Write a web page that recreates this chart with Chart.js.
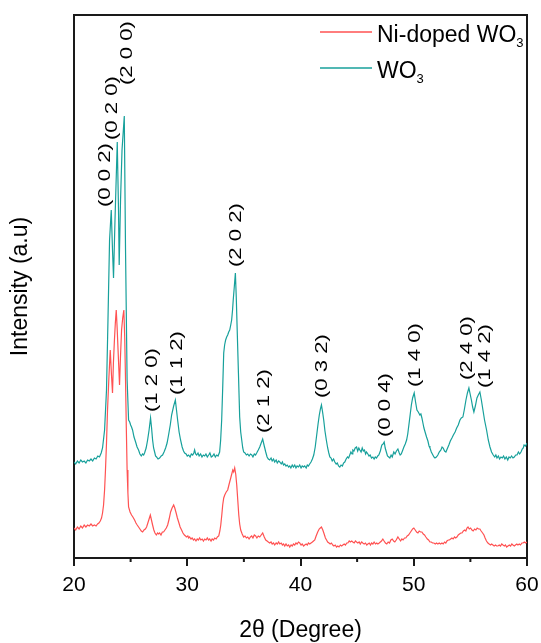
<!DOCTYPE html>
<html>
<head>
<meta charset="utf-8">
<script src="https://cdn.jsdelivr.net/npm/chart.js@4.4.1/dist/chart.umd.min.js"></script>
<style>
  body { margin: 0; background: #fff; }
  #wrap { width: 541px; height: 643px; }
</style>
</head>
<body>
<div id="wrap"><canvas id="xrd" width="541" height="643"></canvas></div>
<script>
// [2theta (degree), intensity (a.u.)]
const wo3Pattern = [[20.0,96],[20.15,94],[20.3,97],[20.45,95],[20.6,98],[20.75,96],[20.9,97],[21.05,95],[21.2,98],[21.35,97],
  [21.5,99],[21.65,97],[21.8,100],[21.95,99],[22.1,102],[22.25,101],[22.4,105],[22.52,110],[22.70,128],[22.87,168],
  [23.0,238],[23.14,318],[23.29,348],[23.40,308],[23.49,280],[23.62,338],[23.82,416],[23.93,348],[23.99,293],[24.11,358],
  [24.24,408],[24.44,442],[24.55,308],[24.69,178],[24.82,138],[24.92,136],[25.0,133],[25.08,131],[25.17,128],[25.3,121],
  [25.44,116],[25.57,111],[25.70,108],[25.82,104],[25.94,102],[26.05,104],[26.15,103],[26.23,105],[26.37,110],[26.50,118],
  [26.63,128],[26.76,140],[26.85,130],[26.94,118],[27.03,110],[27.12,106],[27.2,102],[27.29,101],[27.42,99],[27.56,100],
  [27.7,102],[27.82,103],[27.95,106],[28.09,110],[28.22,115],[28.35,123],[28.5,133],[28.62,143],[28.8,152],[28.95,158],
  [29.05,148],[29.15,138],[29.28,126],[29.41,118],[29.55,111],[29.67,107],[29.77,105],[29.9,104],[30.0,102],[30.12,103],
  [30.25,101],[30.36,104],[30.48,103],[30.58,105],[30.65,108],[30.74,104],[30.83,103],[30.95,105],[31.05,102],[31.18,104],
  [31.3,101],[31.42,103],[31.54,102],[31.65,104],[31.77,101],[31.89,103],[32.0,105],[32.12,101],[32.24,102],[32.36,104],
  [32.48,101],[32.60,103],[32.72,102],[32.86,106],[32.95,118],[33.04,138],[33.13,170],[33.22,205],[33.30,213],[33.39,218],
  [33.48,221],[33.57,223],[33.66,226],[33.75,228],[33.84,233],[33.92,238],[34.0,248],[34.06,258],[34.16,272],[34.25,285],
  [34.33,260],[34.41,228],[34.52,185],[34.63,141],[34.72,126],[34.81,118],[34.9,110],[34.98,106],[35.1,105],[35.22,103],
  [35.34,104],[35.46,102],[35.58,104],[35.7,103],[35.8,101],[35.92,104],[36.03,103],[36.13,105],[36.27,108],[36.40,111],
  [36.53,115],[36.66,119],[36.8,112],[36.93,106],[37.05,101],[37.16,99],[37.28,98],[37.4,100],[37.5,97],[37.62,99],
  [37.72,96],[37.85,98],[37.95,95],[38.07,97],[38.17,96],[38.3,94],[38.4,96],[38.5,93],[38.61,94],[38.72,92],
  [38.83,93],[38.95,91],[39.05,92],[39.15,90],[39.27,93],[39.38,91],[39.49,93],[39.6,90],[39.7,92],[39.82,91],
  [39.93,93],[40.05,90],[40.15,92],[40.27,91],[40.37,92],[40.5,90],[40.6,93],[40.7,92],[40.81,94],[40.93,96],
  [41.05,99],[41.17,103],[41.3,111],[41.43,123],[41.55,134],[41.66,143],[41.76,149],[41.85,153],[41.95,146],[42.05,138],
  [42.16,127],[42.28,118],[42.4,110],[42.5,105],[42.59,101],[42.7,100],[42.8,97],[42.92,99],[43.03,96],[43.15,94],
  [43.25,95],[43.36,92],[43.47,91],[43.58,93],[43.7,92],[43.8,95],[43.91,96],[44.03,99],[44.15,101],[44.25,100],
  [44.35,103],[44.45,106],[44.55,104],[44.62,108],[44.72,107],[44.83,110],[44.95,111],[45.05,107],[45.15,110],[45.24,108],
  [45.35,106],[45.45,110],[45.55,107],[45.65,108],[45.75,104],[45.83,106],[45.95,104],[46.05,102],[46.15,103],[46.27,100],
  [46.39,101],[46.5,99],[46.6,101],[46.71,100],[46.82,102],[46.92,103],[47.05,107],[47.18,113],[47.29,114],[47.39,116],
  [47.48,110],[47.58,106],[47.68,102],[47.79,101],[47.89,100],[48.0,103],[48.1,101],[48.24,106],[48.35,104],[48.47,107],
  [48.6,109],[48.72,105],[48.8,103],[48.9,104],[49.0,107],[49.13,111],[49.25,114],[49.37,118],[49.47,124],[49.57,133],
  [49.68,143],[49.79,153],[49.9,160],[50.04,165],[50.16,156],[50.28,148],[50.4,146],[50.54,143],[50.63,144],[50.72,140],
  [50.81,135],[50.9,130],[51.0,126],[51.13,121],[51.25,117],[51.35,112],[51.43,110],[51.55,106],[51.69,103],[51.78,101],
  [51.87,100],[52.0,101],[52.13,103],[52.25,106],[52.4,108],[52.5,111],[52.6,110],[52.72,107],[52.84,106],[52.95,109],
  [53.1,113],[53.23,117],[53.37,120],[53.5,123],[53.65,126],[53.79,130],[53.93,133],[54.08,138],[54.2,140],[54.34,141],
  [54.46,148],[54.61,158],[54.74,165],[54.87,170],[54.98,164],[55.09,158],[55.2,151],[55.31,146],[55.44,152],[55.58,160],
  [55.7,163],[55.84,166],[55.97,158],[56.11,148],[56.25,138],[56.43,128],[56.58,118],[56.73,111],[56.87,106],[57.02,103],
  [57.15,101],[57.25,103],[57.35,100],[57.47,102],[57.58,99],[57.7,101],[57.82,100],[57.93,102],[58.05,99],[58.17,101],
  [58.3,98],[58.41,101],[58.52,100],[58.64,102],[58.76,100],[58.88,101],[59.0,103],[59.12,103],[59.24,106],[59.35,104],
  [59.47,106],[59.58,109],[59.67,110],[59.74,113],[59.87,112],[60.0,115]];

const niPattern = [[20.0,30],[20.15,28],[20.3,31],[20.45,29],[20.6,32],[20.75,30],[20.9,33],[21.05,31],[21.2,33],[21.35,32],
  [21.5,34],[21.65,32],[21.8,33],[21.95,32],[22.08,34],[22.2,35],[22.32,37],[22.43,40],[22.52,45],[22.61,53],
  [22.7,68],[22.78,88],[22.87,115],[22.96,148],[23.08,180],[23.20,208],[23.31,183],[23.40,165],[23.48,195],[23.57,218],
  [23.65,235],[23.73,248],[23.81,230],[23.89,208],[24.02,173],[24.1,200],[24.20,228],[24.3,240],[24.40,248],[24.48,220],
  [24.55,178],[24.62,130],[24.69,88],[24.76,65],[24.82,51],[24.95,46],[25.08,43],[25.2,41],[25.35,38],[25.47,35],
  [25.58,33],[25.70,31],[25.82,29],[25.94,27],[26.06,26],[26.18,28],[26.3,29],[26.41,31],[26.52,35],[26.63,39],
  [26.74,43],[26.84,38],[26.94,33],[27.05,28],[27.15,25],[27.27,23],[27.38,25],[27.47,24],[27.56,25],[27.68,23],
  [27.8,26],[27.91,26],[28.03,28],[28.15,30],[28.27,33],[28.4,39],[28.53,46],[28.66,50],[28.80,53],[28.9,50],
  [29.02,45],[29.13,40],[29.24,36],[29.37,31],[29.50,28],[29.62,25],[29.75,23],[29.85,22],[29.92,21],[30.05,22],
  [30.12,20],[30.21,21],[30.33,19],[30.43,20],[30.55,18],[30.65,19],[30.77,17],[30.88,19],[30.98,18],[31.09,20],
  [31.2,18],[31.32,19],[31.43,17],[31.54,19],[31.66,18],[31.77,20],[31.88,18],[31.98,19],[32.1,17],[32.2,19],
  [32.32,18],[32.42,20],[32.55,19],[32.66,21],[32.78,22],[32.88,27],[32.96,33],[33.05,43],[33.13,53],[33.22,60],
  [33.31,63],[33.44,66],[33.57,68],[33.7,74],[33.84,80],[33.93,84],[34.02,88],[34.1,86],[34.19,90],[34.28,84],
  [34.37,73],[34.46,58],[34.55,43],[34.63,34],[34.72,28],[34.85,24],[34.98,21],[35.1,22],[35.22,20],[35.34,21],
  [35.46,19],[35.58,21],[35.69,22],[35.8,20],[35.92,23],[36.04,22],[36.15,20],[36.27,22],[36.40,21],[36.53,23],
  [36.66,25],[36.8,21],[36.93,18],[37.05,17],[37.16,16],[37.28,15],[37.4,16],[37.5,14],[37.62,15],[37.72,13],
  [37.85,15],[37.95,14],[38.07,16],[38.17,14],[38.3,15],[38.4,13],[38.5,14],[38.61,12],[38.72,14],[38.83,12],
  [38.95,13],[39.05,11],[39.17,13],[39.27,12],[39.38,14],[39.49,13],[39.6,15],[39.7,14],[39.82,16],[39.93,15],
  [40.05,13],[40.15,14],[40.27,12],[40.37,13],[40.5,14],[40.6,13],[40.7,15],[40.81,14],[40.93,15],[41.05,16],
  [41.15,17],[41.26,18],[41.38,22],[41.52,26],[41.65,29],[41.75,30],[41.85,31],[41.97,28],[42.09,24],[42.2,20],
  [42.30,18],[42.40,16],[42.52,15],[42.62,14],[42.73,15],[42.85,13],[42.95,12],[43.07,13],[43.18,11],[43.29,12],
  [43.4,11],[43.52,13],[43.63,12],[43.74,13],[43.86,14],[43.97,13],[44.08,15],[44.18,15],[44.3,17],[44.4,16],
  [44.52,17],[44.62,16],[44.74,15],[44.85,17],[44.95,16],[45.06,15],[45.18,16],[45.28,14],[45.4,16],[45.50,15],
  [45.62,14],[45.74,15],[45.85,13],[45.95,14],[46.07,15],[46.18,13],[46.28,15],[46.39,14],[46.5,16],[46.62,14],
  [46.73,15],[46.83,14],[46.95,15],[47.05,16],[47.15,17],[47.27,19],[47.38,17],[47.5,15],[47.62,14],[47.74,16],
  [47.86,15],[47.98,18],[48.1,19],[48.22,17],[48.33,16],[48.45,18],[48.6,21],[48.72,19],[48.84,17],[48.95,19],
  [49.06,18],[49.18,20],[49.3,20],[49.42,22],[49.54,23],[49.66,25],[49.78,27],[49.9,29],[50.01,30],[50.13,28],
  [50.25,26],[50.37,25],[50.48,27],[50.6,26],[50.72,26],[50.84,24],[50.95,23],[51.07,21],[51.2,19],[51.31,18],
  [51.43,16],[51.55,16],[51.66,15],[51.78,15],[51.9,14],[52.01,15],[52.13,14],[52.25,15],[52.37,14],[52.49,15],
  [52.6,14],[52.72,16],[52.83,15],[52.93,17],[53.05,18],[53.15,18],[53.26,19],[53.37,20],[53.48,19],[53.6,21],
  [53.7,20],[53.81,21],[53.93,23],[54.04,24],[54.15,25],[54.26,25],[54.38,27],[54.5,28],[54.6,27],[54.7,30],
  [54.79,31],[54.9,29],[55.02,30],[55.14,28],[55.25,27],[55.37,29],[55.49,28],[55.6,30],[55.72,29],[55.84,29],
  [55.95,27],[56.08,25],[56.20,23],[56.3,20],[56.42,17],[56.55,15],[56.66,14],[56.78,13],[56.88,14],[56.99,13],
  [57.1,12],[57.22,13],[57.32,12],[57.43,12],[57.55,13],[57.66,12],[57.77,14],[57.88,13],[58.0,12],[58.1,13],
  [58.2,11],[58.32,12],[58.44,13],[58.55,12],[58.66,14],[58.76,13],[58.88,12],[58.98,13],[59.1,14],[59.2,13],
  [59.32,14],[59.43,13],[59.55,15],[59.65,15],[59.77,16],[59.88,15],[60.0,16]];

// peak labels (hkl), anchored at the foot of the rotated text
const peakNames = ['(0 0 2)','(0 2 0)','(2 0 0)','(1 2 0)','(1 1 2)','(2 0 2)',
  '(2 1 2)','(0 3 2)','(0 0 4)','(1 4 0)','(2 4 0)','(1 4 2)'];
const peakTheta = [22.78,23.40,24.73,26.94,29.15,34.36,36.84,41.96,47.45,50.10,54.70,56.29];
const peakInt = [351,418,473,146,163,291,125,160,121,171,178,170];

const xTicks = [20,30,40,50,60];
const xMinor = [25,35,45,55];

const RED = '#ff5252';
const TEAL = '#17a09b';
const FRAME = '#1a1a1a';
const FONT = '"Liberation Sans", Arial, sans-serif';

const toXY = pts => pts.map(p => ({x: p[0], y: p[1]}));

// text with unicode subscript digits
function drawRich(ctx, text, x, y, size) {
  let cx = x;
  for (const ch of text) {
    const k = '₀₁₂₃₄₅₆₇₈₉'.indexOf(ch);
    if (k >= 0) {
      ctx.font = Math.round(size * 0.58) + 'px ' + FONT;
      ctx.fillText(String(k), cx, y + size * 0.22);
      cx += ctx.measureText(String(k)).width;
    } else {
      ctx.font = size + 'px ' + FONT;
      ctx.fillText(ch, cx, y);
      cx += ctx.measureText(ch).width;
    }
  }
}

const decor = {
  id: 'decor',
  afterDraw(chart) {
    const {ctx, chartArea: a, scales: {x, y}} = chart;
    ctx.save();
    // minor ticks
    ctx.strokeStyle = FRAME;
    ctx.lineWidth = 2;
    ctx.beginPath();
    xMinor.forEach(v => {
      const px = x.getPixelForValue(v);
      ctx.moveTo(px, a.bottom);
      ctx.lineTo(px, a.bottom + 4);
    });
    ctx.stroke();
    // hkl labels
    ctx.fillStyle = '#000';
    ctx.font = '17px ' + FONT;
    ctx.textAlign = 'left';
    ctx.textBaseline = 'middle';
    peakNames.forEach((t, i) => {
      ctx.save();
      ctx.translate(x.getPixelForValue(peakTheta[i]), y.getPixelForValue(peakInt[i]));
      ctx.rotate(-Math.PI / 2);
      ctx.scale(1.3, 1);
      ctx.fillText(t, 0, 0);
      ctx.restore();
    });
    // legend
    ctx.textBaseline = 'alphabetic';
    chart.data.datasets.forEach((ds, i) => {
      const ly = a.top + 17 + i * 36;
      ctx.strokeStyle = ds.borderColor;
      ctx.lineWidth = 1.5;
      ctx.beginPath();
      ctx.moveTo(a.right - 207, ly);
      ctx.lineTo(a.right - 155, ly);
      ctx.stroke();
      ctx.fillStyle = '#000';
      drawRich(ctx, ds.label, a.right - 150, ly + 10, 23);
    });
    ctx.restore();
  }
};

// empty axes on top and right close the box
const edgeAxis = pos => ({
  position: pos, display: true,
  min: pos === 'top' ? 20 : 0, max: pos === 'top' ? 60 : 543,
  ticks: {display: false}, grid: {display: false},
  border: {display: true, color: FRAME, width: 2},
  afterFit: s => { if (pos === 'top') { s.height = 0; s.paddingLeft = 0; s.paddingRight = 0; } else { s.width = 0; } }
});

new Chart(document.getElementById('xrd'), {
  type: 'line',
  data: {
    datasets: [
      {label: 'Ni-doped WO₃', data: toXY(niPattern), borderColor: RED, borderWidth: 1.2, pointRadius: 0, tension: 0},
      {label: 'WO₃', data: toXY(wo3Pattern), borderColor: TEAL, borderWidth: 1.2, pointRadius: 0, tension: 0}
    ]
  },
  options: {
    responsive: false,
    devicePixelRatio: 1,
    animation: false,
    layout: {padding: {top: 15, right: 14, left: 0, bottom: 0}},
    plugins: {legend: {display: false}, tooltip: {enabled: false}},
    scales: {
      x: {
        type: 'linear', min: 20, max: 60,
        afterFit: s => { s.height = 85; s.paddingLeft = 0; s.paddingRight = 0; },
        afterBuildTicks: s => { s.ticks = xTicks.map(v => ({value: v})); },
        ticks: {color: '#000', font: {family: FONT, size: 21}, padding: 7, maxRotation: 0},
        grid: {drawOnChartArea: false, drawTicks: true, tickLength: 8, color: FRAME, lineWidth: 2},
        border: {display: true, color: FRAME, width: 2},
        title: {display: true, text: '2θ (Degree)', color: '#000', font: {family: FONT, size: 23}, padding: {top: 0, bottom: -1}}
      },
      y: {
        min: 0, max: 543,
        afterFit: s => { s.width = 74; },
        ticks: {display: false},
        grid: {display: false},
        border: {display: true, color: FRAME, width: 2},
        title: {display: true, text: 'Intensity (a.u)', color: '#000', font: {family: FONT, size: 23}, padding: {top: 7, bottom: 0}}
      },
      xTop: Object.assign({type: 'linear'}, edgeAxis('top')),
      yRight: Object.assign({type: 'linear'}, edgeAxis('right'))
    }
  },
  plugins: [decor]
});
</script>
</body>
</html>
